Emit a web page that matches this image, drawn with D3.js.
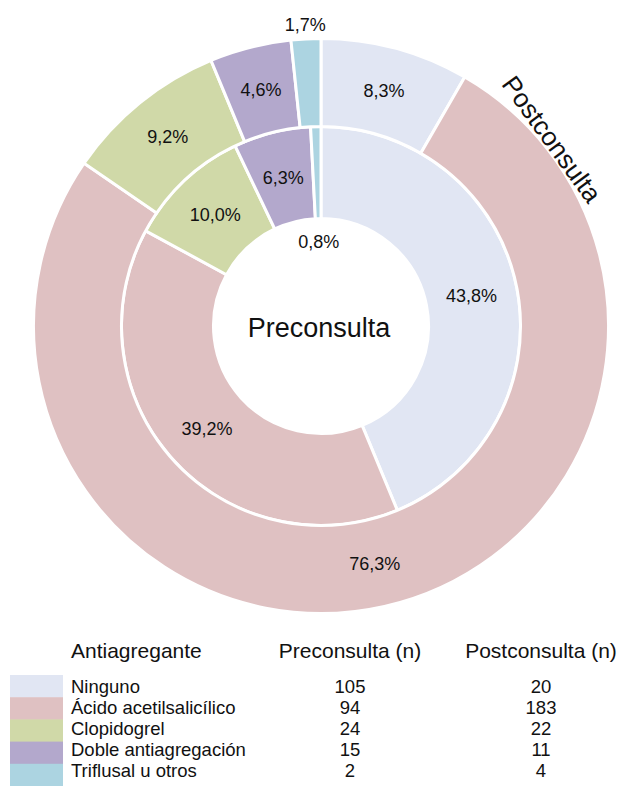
<!DOCTYPE html>
<html>
<head>
<meta charset="utf-8">
<script src="https://cdn.jsdelivr.net/npm/d3@7"></script>
<style>
  body { margin: 0; background: #fff; }
  text { font-family: "Liberation Sans", Arial, sans-serif; fill: #111; }
</style>
</head>
<body>
<div id="chart"></div>
<script>
// data
var categories = ["Ninguno", "Ácido acetilsalicílico", "Clopidogrel", "Doble antiagregación", "Triflusal u otros"];
var preValues  = [105, 94, 24, 15, 2];
var postValues = [20, 183, 22, 11, 4];
var colors     = ["#e1e6f3", "#dfc1c2", "#d0d9a8", "#b3a8cc", "#acd4e1"];
var headers    = ["Antiagregante", "Preconsulta (n)", "Postconsulta (n)"];

var width  = 620;
var height = 786;
var cx = 321, cy = 326;

var svg = d3.select("#chart")
            .append("svg")
            .attr("width", width)
            .attr("height", height);

var pie = d3.pie().sort(null).value(function(d) { return d; });

var fmt = function(v) { return d3.format(".1f")(v).replace(".", ",") + "%"; };

var color = d3.scaleOrdinal().domain(d3.range(categories.length)).range(colors);

// ring radii
var inner = { r0: 107.5, r1: 199.5 };
var outer = { r0: 199.5, r1: 287.5 };

var chart = svg.append("g").attr("transform", "translate(" + cx + "," + cy + ")");

function drawRing(values, ring, cls, smallR) {
  var total = d3.sum(values);
  var arcs = pie(values);
  var arc = d3.arc().innerRadius(ring.r0).outerRadius(ring.r1);
  var g = chart.append("g").attr("class", cls);

  g.selectAll("path")
    .data(arcs)
    .enter()
      .append("path")
      .attr("d", arc)
      .style("fill", function(d, i) { return color(i); })
      .style("stroke", "#fff")
      .style("stroke-width", 3);

  // labels, tiny slices go outside the ring
  g.selectAll("text")
    .data(arcs)
    .enter()
      .append("text")
      .attr("transform", function(d) {
        var pct = d.value / total * 100;
        var r = pct < 3 ? smallR : (ring.r0 + ring.r1) / 2;
        var a = (d.startAngle + d.endAngle) / 2;
        return "translate(" + (Math.sin(a) * r) + "," + (-Math.cos(a) * r) + ")";
      })
      .attr("text-anchor", "middle")
      .attr("dy", "0.35em")
      .style("font-size", "18px")
      .text(function(d) { return fmt(d.value / total * 100); });
}

drawRing(preValues, inner, "pre", 84);
drawRing(postValues, outer, "post", 302);

// ring titles
chart.append("text")
     .attr("text-anchor", "middle")
     .attr("dy", "0.35em")
     .attr("y", 2)
     .attr("x", -2)
     .style("font-size", "27px")
     .text("Preconsulta");

var ta = 51 * Math.PI / 180, tr = 297;
chart.append("text")
     .attr("text-anchor", "middle")
     .attr("dy", "0.35em")
     .attr("transform", "translate(" + (Math.sin(ta) * tr) + "," + (-Math.cos(ta) * tr) + ") rotate(54)")
     .style("font-size", "26px")
     .text("Postconsulta");

// legend table
var colX = [71, 350, 541];
var rowY = d3.scaleBand().domain(d3.range(categories.length)).range([676, 781]);
var swatchY = d3.scaleBand().domain(d3.range(categories.length)).range([675, 786]);

var legend = svg.append("g");

legend.selectAll("text.hdr")
  .data(headers)
  .enter()
    .append("text")
    .attr("class", "hdr")
    .attr("x", function(d, i) { return colX[i]; })
    .attr("y", 658)
    .attr("text-anchor", function(d, i) { return i === 0 ? "start" : "middle"; })
    .style("font-size", "21px")
    .text(function(d) { return d; });

legend.selectAll("rect")
  .data(categories)
  .enter()
    .append("rect")
    .attr("x", 10)
    .attr("y", function(d, i) { return swatchY(i); })
    .attr("width", 53)
    .attr("height", swatchY.bandwidth() + 0.5)
    .style("fill", function(d, i) { return color(i); });

var rows = legend.selectAll("g.row")
  .data(categories)
  .enter()
    .append("g")
    .attr("class", "row")
    .attr("transform", function(d, i) { return "translate(0," + rowY(i) + ")"; });

rows.append("text")
    .attr("x", colX[0])
    .attr("y", rowY.bandwidth() / 2)
    .attr("dy", "0.35em")
    .style("font-size", "18.5px")
    .text(function(d) { return d; });

rows.append("text")
    .attr("x", colX[1])
    .attr("y", rowY.bandwidth() / 2)
    .attr("dy", "0.35em")
    .attr("text-anchor", "middle")
    .style("font-size", "18.5px")
    .text(function(d, i) { return preValues[i]; });

rows.append("text")
    .attr("x", colX[2])
    .attr("y", rowY.bandwidth() / 2)
    .attr("dy", "0.35em")
    .attr("text-anchor", "middle")
    .style("font-size", "18.5px")
    .text(function(d, i) { return postValues[i]; });
</script>
</body>
</html>
